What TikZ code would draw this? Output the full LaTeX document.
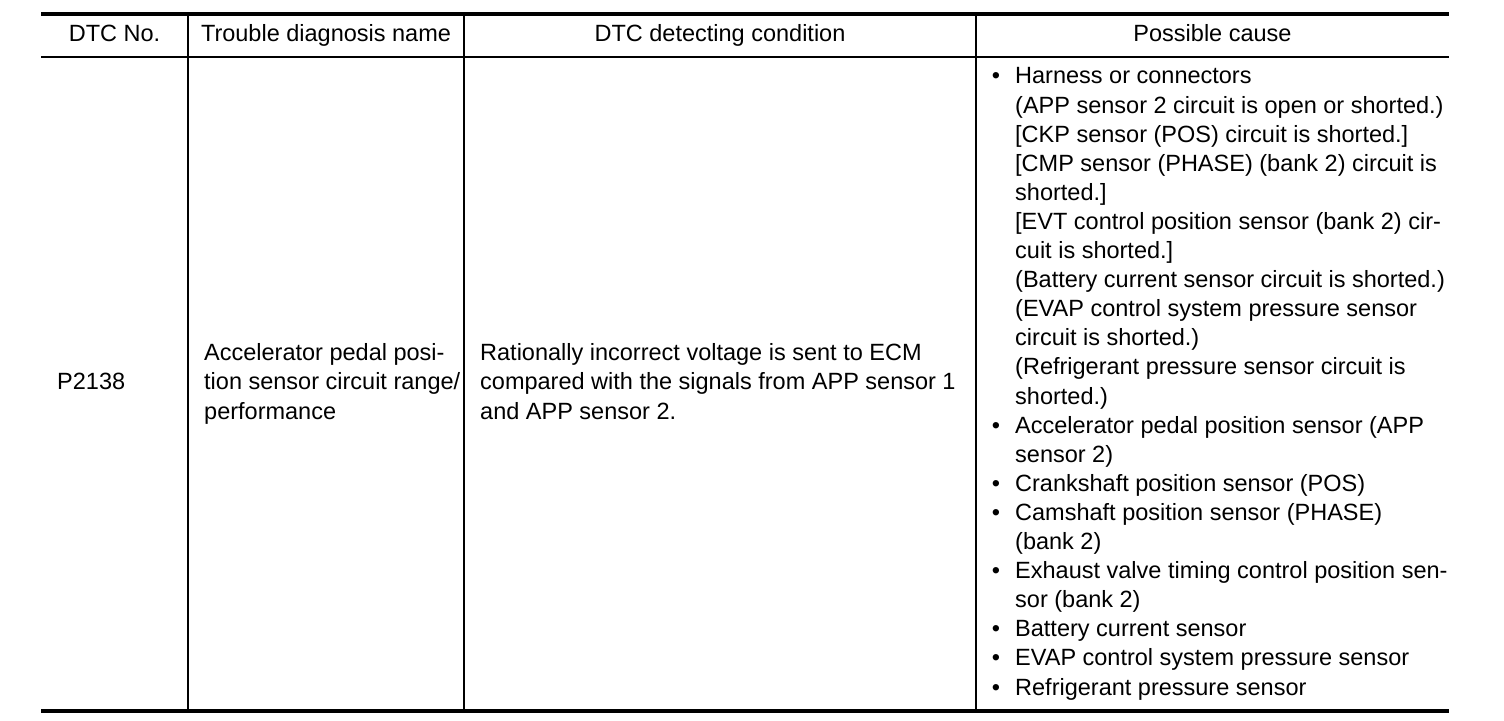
\documentclass[tikz,border=0pt]{standalone}
\usepackage{fontspec}
\setmainfont{Liberation Sans}
\newcommand{\bul}{\makebox[0pt][r]{\textbullet\hspace{15pt}}}

\begin{document}
\begin{tikzpicture}[x=1pt, y=-1pt,
	txt/.style = {inner sep=0pt, font=\fontsize{23.5}{29.1}\selectfont},
	head/.style = {txt, anchor=base},
	cell/.style = {txt, anchor=base west, align=left}]
\useasboundingbox (0, 0) rectangle (1504, 720);

% rules
\draw[line width=4pt] (41, 14) -- (1449, 14);
\draw[line width=2pt] (41, 57) -- (1449, 57);
\draw[line width=4pt] (41, 711) -- (1449, 711);

\draw[line width=1.5pt] (188, 14) -- (188, 711);
\draw[line width=1.5pt] (464, 14) -- (464, 711);
\draw[line width=1.5pt] (976, 14) -- (976, 711);

% header
\node[head] (hdrno) at (114.5, 41) {DTC No.};
\node[head] (hdrname) at (326, 41) {Trouble diagnosis name};
\node[head] (hdrcond) at (720, 41) {DTC detecting condition};
\node[head] (hdrcause) at (1212.5, 41) {Possible cause};

% body (base = last line)
\node[cell] (dtcno) at (57, 389) {P2138};
\node[cell] (diagname) at (204, 419) {Accelerator pedal posi-\\
	tion sensor circuit range/\\
	performance};
\node[cell] (detcond) at (480, 419) {Rationally incorrect voltage is sent to ECM\\
	compared with the signals from APP sensor 1\\
	and APP sensor 2.};
\node[cell] (cause) at (1015, 695) {\bul Harness or connectors\\
	(APP sensor 2 circuit is open or shorted.)\\
	{[}CKP sensor (POS) circuit is shorted.]\\
	{[}CMP sensor (PHASE) (bank 2) circuit is\\
	shorted.]\\
	{[}EVT control position sensor (bank 2) cir-\\
	cuit is shorted.]\\
	(Battery current sensor circuit is shorted.)\\
	(EVAP control system pressure sensor\\
	circuit is shorted.)\\
	(Refrigerant pressure sensor circuit is\\
	shorted.)\\
	\bul Accelerator pedal position sensor (APP\\
	sensor 2)\\
	\bul Crankshaft position sensor (POS)\\
	\bul Camshaft position sensor (PHASE)\\
	(bank 2)\\
	\bul Exhaust valve timing control position sen-\\
	sor (bank 2)\\
	\bul Battery current sensor\\
	\bul EVAP control system pressure sensor\\
	\bul Refrigerant pressure sensor};
\end{tikzpicture}
\end{document}
